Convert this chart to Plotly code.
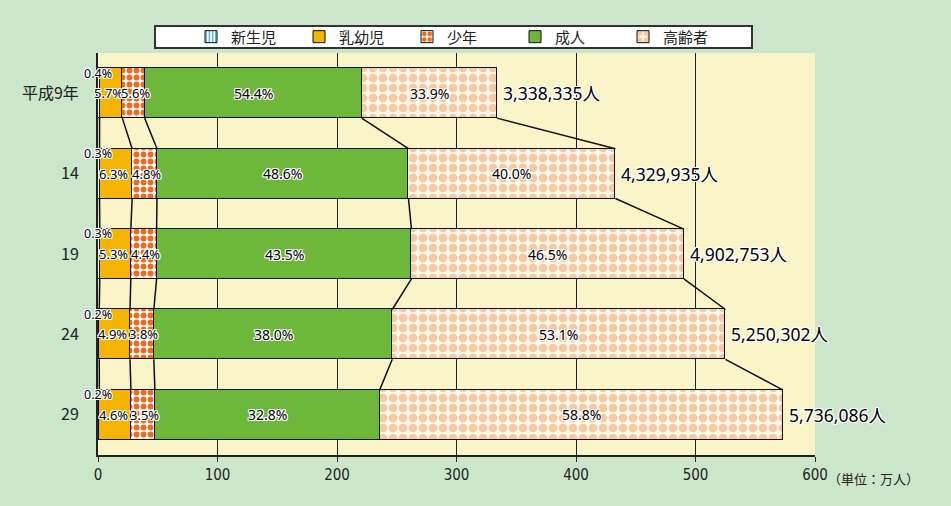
import plotly.graph_objects as go

years = ["平成9年", "14", "19", "24", "29"]
totals_people = [3338335, 4329935, 4902753, 5250302, 5736086]
series_names = ["新生児", "乳幼児", "少年", "成人", "高齢者"]
pct_newborn = [0.4, 0.3, 0.3, 0.2, 0.2]
pct_infant = [5.7, 6.3, 5.3, 4.9, 4.6]
pct_youth = [5.6, 4.8, 4.4, 3.8, 3.5]
pct_adult = [54.4, 48.6, 43.5, 38.0, 32.8]
pct_elderly = [33.9, 40.0, 46.5, 53.1, 58.8]
x_ticks = [0, 100, 200, 300, 400, 500, 600]

pcts = [pct_newborn, pct_infant, pct_youth, pct_adult, pct_elderly]
totals = [t / 10000 for t in totals_people]  # 万人
ypos = list(range(len(years)))

styles = [
    dict(color="#FFFFFF", pattern=dict(shape="|", fgcolor="#2AA8E0", bgcolor="#FFFFFF", size=4, solidity=0.4)),
    dict(color="#F5B400"),
    dict(color="#FFFFFF", pattern=dict(shape=".", fgcolor="#EE6A1E", bgcolor="#FFFFFF", size=7, solidity=0.55)),
    dict(color="#6DB83B"),
    dict(color="#FFF6E6", pattern=dict(shape=".", fgcolor="#F5C9A4", bgcolor="#FFF9EA", size=10, solidity=0.6)),
]

BAR_W = 0.62
FONT = "Noto Sans CJK JP"
NUMFONT = "Noto Sans, Noto Sans CJK JP"
halo = "1px 0 0 #fff, -1px 0 0 #fff, 0 1px 0 #fff, 0 -1px 0 #fff, 1px 1px 0 #fff, -1px -1px 0 #fff, 1px -1px 0 #fff, -1px 1px 0 #fff"

fig = go.Figure()

# segment lengths and cumulative boundaries
segs = [[totals[r] * pcts[s][r] / 100 for r in range(len(years))] for s in range(len(series_names))]
cums = []
for r in range(len(years)):
    c = 0
    row = []
    for s in range(len(series_names)):
        c += segs[s][r]
        row.append(c)
    cums.append(row)

for s, name in enumerate(series_names):
    st = styles[s]
    marker = dict(color=st["color"], line=dict(color="#111111", width=1))
    if "pattern" in st:
        marker["pattern"] = dict(fillmode="replace", **st["pattern"])
    fig.add_trace(go.Bar(
        y=ypos, x=segs[s], name=name, orientation="h", width=BAR_W,
        marker=marker, hoverinfo="skip",
    ))

# connecting lines between consecutive bars
for r in range(len(years) - 1):
    for s in range(len(series_names)):
        fig.add_trace(go.Scatter(
            x=[cums[r][s], cums[r + 1][s]],
            y=[r + BAR_W / 2, r + 1 - BAR_W / 2],
            mode="lines", line=dict(color="#111111", width=1.5),
            showlegend=False, hoverinfo="skip",
        ))

annotations = []
for r in range(len(years)):
    start = 0
    for s in range(len(series_names)):
        end = cums[r][s]
        if s == 0:
            annotations.append(dict(x=0, y=r - 0.25, text=f"{pcts[s][r]:.1f}%", showarrow=False,
                                    xref="x", yref="y", font=dict(size=12.5, family=NUMFONT, color="#000", shadow=halo)))
        else:
            shift = -2 if s == 1 else (2 if s == 2 else 0)
            size = 13 if s in (1, 2) else 14
            annotations.append(dict(x=(start + end) / 2, y=r, text=f"{pcts[s][r]:.1f}%", showarrow=False,
                                    xref="x", yref="y", xshift=shift,
                                    font=dict(size=size, family=NUMFONT, color="#000", shadow=halo)))
        start = end
    annotations.append(dict(x=totals[r], y=r, text=f"{totals_people[r]:,}人", showarrow=False,
                            xref="x", yref="y", xanchor="left", xshift=4,
                            font=dict(size=17.5, family=NUMFONT, color="#000", shadow=halo)))

annotations.append(dict(x=600, y=-0.058, xref="x", yref="paper", text="（単位：万人）", showarrow=False,
                        xanchor="left", yanchor="middle", xshift=11,
                        font=dict(size=13, family=FONT, color="#222")))

fig.update_layout(
    width=951, height=506,
    margin=dict(l=98, r=136, t=53, b=51),
    paper_bgcolor="#CCE6CC",
    plot_bgcolor="#FAF5C8",
    barmode="stack",
    bargap=0,
    font=dict(family=FONT, color="#222"),
    annotations=annotations,
    shapes=[dict(type="rect", xref="paper", yref="paper",
                 x0=(155 - 98) / 717, x1=(752 - 98) / 717,
                 y0=(455 - 48) / 402, y1=(455 - 26) / 402,
                 fillcolor="#FFFFFF", line=dict(color="#333333", width=2), layer="below")],
    legend=dict(orientation="h", x=(191 - 98) / 717, xanchor="left", y=1.04, yanchor="middle",
                bgcolor="rgba(0,0,0,0)", borderwidth=0, font=dict(size=15, family=FONT, color="#222"),
                entrywidth=63, itemwidth=30, traceorder="normal"),
    showlegend=True,
)

fig.update_xaxes(range=[0, 600], tickvals=x_ticks, ticktext=[str(v) for v in x_ticks],
                 showgrid=True, gridcolor="#222222", gridwidth=1,
                 showline=True, linecolor="#222222", linewidth=2,
                 ticks="outside", ticklen=5, tickcolor="#222222",
                 tickfont=dict(size=15, family="DejaVu Sans Condensed", color="#222"),
                 zeroline=False, fixedrange=True)
fig.update_yaxes(range=[4.5, -0.5], tickvals=ypos, ticktext=years,
                 showgrid=False, showline=True, linecolor="#222222", linewidth=2,
                 ticks="", ticklabelstandoff=14,
                 tickfont=dict(size=16, family=FONT, color="#222"),
                 zeroline=False, fixedrange=True)

fig.write_html("out.html")
